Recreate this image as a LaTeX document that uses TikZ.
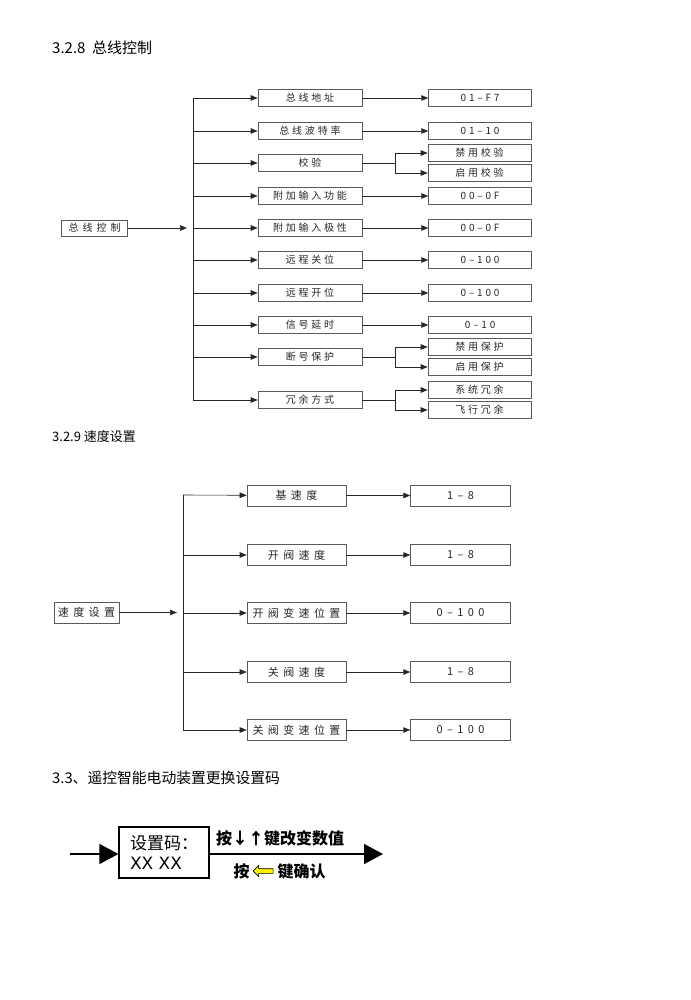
\documentclass[tikz,border=0pt]{standalone}
\usepackage{fontspec}
\setmainfont{Noto Sans CJK SC}
\newfontfamily\boxfont[LetterSpace=28]{Noto Sans CJK SC}
\newfontfamily\wideboxfont[LetterSpace=40]{Noto Sans CJK SC}
\newfontfamily\latfont{DejaVu Sans}
\usepackage{tikz}
\usetikzlibrary{arrows.meta,positioning,shapes.arrows}

\begin{document}
\begin{tikzpicture}[
x=1pt,y=-1pt,
blk/.style={draw=black!65,line width=0.6pt,minimum width=104pt,minimum height=17pt,inner sep=0pt,text=black!85,font=\fontsize{10}{11}\boxfont},
val/.style={blk,minimum width=103pt},
spd/.style={blk,minimum width=99pt,minimum height=21pt,font=\fontsize{11}{12}\wideboxfont},
spdval/.style={spd,minimum width=100pt},
ttl/.style={anchor=west,inner sep=0pt},
arr/.style={-{Triangle[length=7pt,width=5.5pt]},line width=0.6pt,draw=black!85},
bigarr/.style={-{Triangle[length=19pt,width=20pt]},line width=1.3pt},
lbl/.style={inner sep=0pt,font=\fontsize{16}{18}\bfseries}
]
\useasboundingbox (0,0) rectangle (690,1000);

% 3.2.8
\node[ttl,font=\fontsize{15}{17}\selectfont] (t1) at (52,48) {3.2.8\ \ 总线控制};
\node[blk,minimum width=66pt,minimum height=16pt,font=\fontsize{10}{11}\wideboxfont] (bus) at (94.5,228) {总线控制};
\coordinate (bin) at (187,228); \coordinate (btop) at (193,98); \coordinate (bbot) at (193,400);
\node[blk] (addr) at (310,98) {总线地址};
\node[blk] (baud) at (310,131) {总线波特率};
\node[blk] (chk) at (310,163) {校验};
\node[blk] (auxf) at (310,196) {附加输入功能};
\node[blk] (auxp) at (310,228) {附加输入极性};
\node[blk] (rcl) at (310,260) {远程关位};
\node[blk] (rop) at (310,293) {远程开位};
\node[blk] (sdl) at (310,325) {信号延时};
\node[blk] (brk) at (310,357) {断号保护};
\node[blk] (red) at (310,400) {冗余方式};
\node[val,right=66pt of addr] (addrv) {01–F7};
\node[val,right=66pt of baud] (baudv) {01–10};
\node[val,right=66pt of auxf] (auxfv) {00–0F};
\node[val,right=66pt of auxp] (auxpv) {00–0F};
\node[val,right=66pt of rcl] (rclv) {0–100};
\node[val,right=66pt of rop] (ropv) {0–100};
\node[val,right=66pt of sdl] (sdlv) {0–10};
\node[val] (chkoff) at (479.5,153) {禁用校验};
\node[val] (chkon) at (479.5,173) {启用校验};
\node[val] (brkoff) at (479.5,347) {禁用保护};
\node[val] (brkon) at (479.5,367) {启用保护};
\node[val] (redsys) at (479.5,390) {系统冗余};
\node[val] (redfly) at (479.5,410) {飞行冗余};
\draw[arr] (bus)--(bin); \draw[arr,-] (btop)--(bbot);
\draw[arr] (btop)--(addr); \draw[arr] (btop|-baud)--(baud); \draw[arr] (btop|-chk)--(chk); \draw[arr] (btop|-auxf)--(auxf); \draw[arr] (btop|-auxp)--(auxp);
\draw[arr] (btop|-rcl)--(rcl); \draw[arr] (btop|-rop)--(rop); \draw[arr] (btop|-sdl)--(sdl); \draw[arr] (btop|-brk)--(brk); \draw[arr] (bbot)--(red);
\draw[arr] (addr)--(addrv); \draw[arr] (baud)--(baudv); \draw[arr] (auxf)--(auxfv); \draw[arr] (auxp)--(auxpv); \draw[arr] (rcl)--(rclv); \draw[arr] (rop)--(ropv); \draw[arr] (sdl)--(sdlv);
\coordinate (chks) at (395,163); \coordinate (brks) at (395,357); \coordinate (reds) at (395,400);
\draw[arr,-] (chk)--(chks); \draw[arr] (chks)|-(chkoff); \draw[arr] (chks)|-(chkon);
\draw[arr,-] (brk)--(brks); \draw[arr] (brks)|-(brkoff); \draw[arr] (brks)|-(brkon);
\draw[arr,-] (red)--(reds); \draw[arr] (reds)|-(redsys); \draw[arr] (reds)|-(redfly);

% 3.2.9
\node[ttl,font=\fontsize{13}{15}\selectfont] (t2) at (52,437) {3.2.9 速度设置};
\node[spd,minimum width=65pt] (spdset) at (86.5,612.5) {速度设置};
\coordinate (sin) at (177,612.5); \coordinate (stop) at (183,495); \coordinate (sbot) at (183,730);
\node[spd] (base) at (296.5,495.5) {基速度};
\node[spd] (opsp) at (296.5,555) {开阀速度};
\node[spd] (opch) at (296.5,613) {开阀变速位置};
\node[spd] (clsp) at (296.5,672) {关阀速度};
\node[spd] (clch) at (296.5,730) {关阀变速位置};
\node[spdval,right=64pt of base] (basev) {1–8};
\node[spdval,right=64pt of opsp] (opspv) {1–8};
\node[spdval,right=64pt of opch] (opchv) {0–100};
\node[spdval,right=64pt of clsp] (clspv) {1–8};
\node[spdval,right=64pt of clch] (clchv) {0–100};
\draw[arr] (spdset)--(sin); \draw[arr,-] (stop)--(sbot);
\draw[arr] (stop)--(base); \draw[arr] (stop|-opsp)--(opsp); \draw[arr] (stop|-opch)--(opch); \draw[arr] (stop|-clsp)--(clsp); \draw[arr] (sbot)--(clch);
\draw[arr] (base)--(basev); \draw[arr] (opsp)--(opspv); \draw[arr] (opch)--(opchv); \draw[arr] (clsp)--(clspv); \draw[arr] (clch)--(clchv);

% 3.3
\node[ttl,font=\fontsize{14.8}{16}\selectfont] (t3) at (52,778) {3.3、遥控智能电动装置更换设置码};
\node[draw,line width=1.2pt,minimum width=90pt,minimum height=51pt,align=left,font=\fontsize{17}{20}\selectfont] (code) at (164,852.5) {设置码：\\{\latfont XX XX}};
\coordinate (cin) at (70,854); \coordinate (cout) at (383,854);
\draw[bigarr] (cin)--(cin-|code.west); \draw[bigarr] (code.east|-cout)--(cout);
\node[lbl] (keyud) at (280,838) {按↓↑键改变数值};
\node[lbl] (ok1) at (241.5,871) {按};
\node[single arrow,shape border rotate=180,draw,fill=yellow,line width=0.6pt,minimum height=20pt,minimum width=11pt,inner sep=1.5pt,single arrow head extend=2.5pt,right=3pt of ok1] (yarr) {};
\node[lbl,right=4pt of yarr] (ok2) {键确认};
\end{tikzpicture}
\end{document}
